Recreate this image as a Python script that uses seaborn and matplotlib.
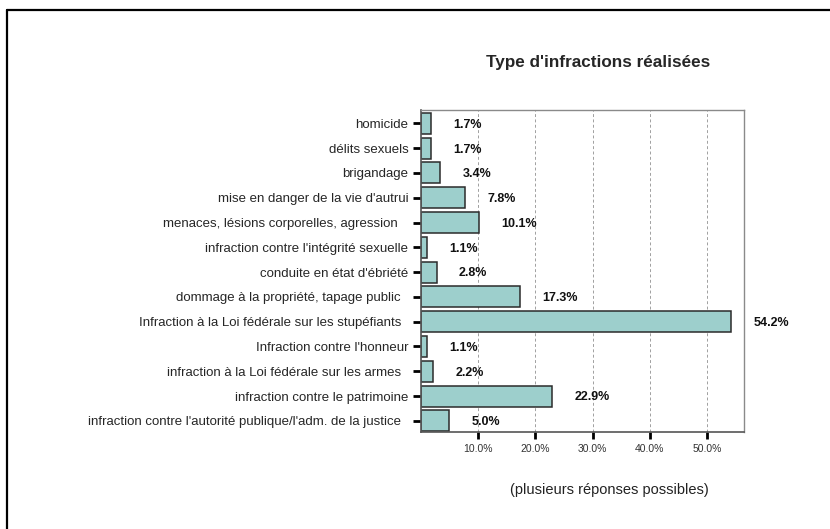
import matplotlib

matplotlib.use("Agg")
import matplotlib.pyplot as plt
import pandas as pd
import seaborn as sns
from matplotlib.lines import Line2D

categories = [
    "homicide",
    "délits sexuels",
    "brigandage",
    "mise en danger de la vie d'autrui",
    "menaces, lésions corporelles, agression   ",
    "infraction contre l'intégrité sexuelle",
    "conduite en état d'ébriété",
    "dommage à la propriété, tapage public  ",
    "Infraction à la Loi fédérale sur les stupéfiants  ",
    "Infraction contre l'honneur",
    "infraction à la Loi fédérale sur les armes  ",
    "infraction contre le patrimoine",
    "infraction contre l'autorité publique/l'adm. de la justice  ",
]
percent = [1.7, 1.7, 3.4, 7.8, 10.1, 1.1, 2.8, 17.3, 54.2, 1.1, 2.2, 22.9, 5.0]
x_ticks = [10, 20, 30, 40, 50]

sns.set_style("white")
plt.rcParams["font.family"] = ["Liberation Sans", "DejaVu Sans"]

df = pd.DataFrame({"infraction": categories, "percent": percent})

fig = plt.figure(figsize=(8.3, 5.29), dpi=100)
ax = fig.add_axes([0.507, 0.1834, 0.389, 0.6096])

sns.barplot(
    data=df,
    y="infraction",
    x="percent",
    orient="h",
    color="#9dcfcc",
    saturation=1,
    width=0.85,
    edgecolor="#2b2b2b",
    linewidth=1.1,
    ax=ax,
    zorder=2,
)

# value labels to the right of each bar
for i, v in enumerate(percent):
    ax.annotate(
        f"{v:.1f}%",
        xy=(v, i),
        xytext=(16, -1),
        textcoords="offset points",
        ha="left",
        va="center",
        fontsize=9,
        fontweight="bold",
        color="#111111",
    )

ax.set_xlim(0, 56.4)
ax.set_ylim(12.45, -0.56)
ax.set_xticks(x_ticks)
ax.set_xticklabels([f"{t:.1f}%" for t in x_ticks], fontsize=7.5, color="#333333")
ax.tick_params(axis="y", labelsize=9.5, length=6, width=2, color="black", pad=3, left=True)
ax.tick_params(axis="x", length=5, width=2, color="black", pad=4, bottom=True)
ax.set_xlabel("")
ax.set_ylabel("")
ax.xaxis.grid(True, linestyle=(0, (3, 2.5)), color="#a0a0a0", linewidth=0.7, zorder=0)
ax.set_axisbelow(True)

for side in ["top", "right"]:
    ax.spines[side].set_color("#8a8a8a")
    ax.spines[side].set_linewidth(1.0)
ax.spines["bottom"].set_color("#555555")
ax.spines["left"].set_color("#555555")
ax.spines["bottom"].set_linewidth(1.2)
ax.spines["left"].set_linewidth(1.2)

fig.text(598 / 830, 1 - 63 / 529, "Type d'infractions réalisées",
         ha="center", va="center", fontsize=12.3, fontweight="bold")
fig.text(609 / 830, 1 - 490 / 529, "(plusieurs réponses possibles)",
         ha="center", va="center", fontsize=10.5, color="#222222")

# outer frame (top and left edges visible)
fig.add_artist(Line2D([7 / 830, 1], [1 - 10 / 529, 1 - 10 / 529],
                      transform=fig.transFigure, color="black", linewidth=1.6))
fig.add_artist(Line2D([7 / 830, 7 / 830], [0, 1 - 10 / 529],
                      transform=fig.transFigure, color="black", linewidth=1.6))

fig.savefig("out.png", dpi=100)
